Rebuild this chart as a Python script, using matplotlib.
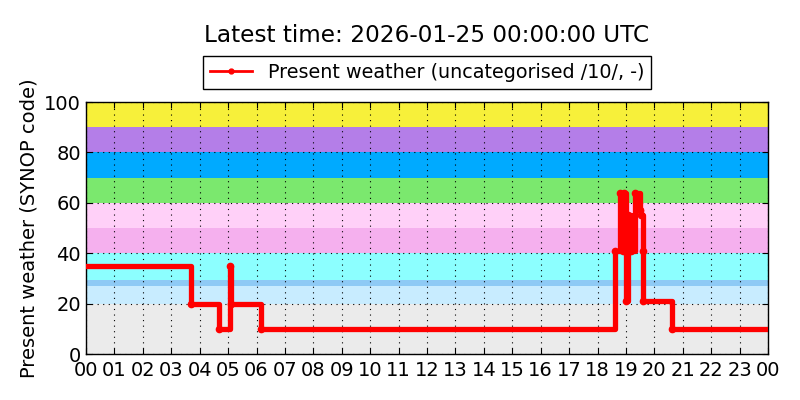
import pandas as pd
import matplotlib
matplotlib.use("Agg")
import matplotlib.pyplot as plt
import matplotlib.dates as mdates
from matplotlib.lines import Line2D

plt.rcParams.update({
    "font.family": "DejaVu Sans",
    "font.size": 14,
    "xtick.direction": "in", "ytick.direction": "in",
    "xtick.top": True, "ytick.right": True,
})

# present weather code, stepped at each change (day 2026-01-24, UTC)
times = ["00:00", "03:42", "04:41", "05:03", "05:07", "06:10",
         "18:38", "18:48", "18:54", "18:57", "19:01", "19:04", "19:11",
         "19:20", "19:29", "19:32", "19:36", "19:37", "20:37"]
codes = [35, 20, 10, 35, 20, 10,
         41, 64, 41, 64, 21, 55, 41,
         64, 57, 55, 41, 21, 10]
end_time = "2026-01-25 00:00"

# background SYNOP category bands
band_lo = [0, 20, 27, 29.5, 40, 50, 60, 70, 80, 90]
band_hi = [20, 27, 29.5, 40, 50, 60, 70, 80, 90, 100]
band_col = ["#ebebeb", "#c8ecff", "#8ecaf5", "#8cffff", "#f5b0ee",
            "#ffd0f8", "#7be86e", "#00aaff", "#b47ee8", "#f7f03a"]

t = list(pd.to_datetime(["2026-01-24 " + s for s in times])) + [pd.Timestamp(end_time)]
v = codes + [codes[-1]]

fig = plt.figure(figsize=(8, 4), dpi=100)
ax = fig.add_axes([0.1075, 0.115, 0.8525, 0.63])

for lo, hi, c in zip(band_lo, band_hi, band_col):
    ax.axhspan(lo, hi, color=c, lw=0, zorder=0)

ax.plot(t, v, drawstyle="steps-post", color="red", lw=3.8,
        marker="o", ms=4.5, mec="red", markevery=list(range(1, len(codes))),
        zorder=3)

ax.set_axisbelow(True)
ax.grid(True, color="black", linestyle=(0, (1, 4)), lw=0.8)
ax.set_ylim(0, 100)
ax.set_yticks(range(0, 101, 20))
ax.set_xlim(pd.Timestamp("2026-01-24 00:00"), pd.Timestamp(end_time))
ax.xaxis.set_major_locator(mdates.HourLocator())
ax.xaxis.set_major_formatter(mdates.DateFormatter("%H"))
ax.tick_params(length=4, width=0.8)
ax.tick_params(axis="x", pad=5)
for s in ax.spines.values():
    s.set_linewidth(1.0)
ax.set_ylabel("Present weather (SYNOP code)")

handle = Line2D([], [], color="red", lw=2, marker=".", ms=7)
leg = ax.legend([handle], ["Present weather (uncategorised /10/, -)"],
                loc="lower center", bbox_to_anchor=(0.5, 1.052),
                borderaxespad=0, numpoints=1, fancybox=False, framealpha=1,
                borderpad=0.35, handlelength=2.2, fontsize=13.8)
leg.get_frame().set_edgecolor("black")
leg.get_frame().set_linewidth(1.0)

fig.text(0.5335, 0.912, "Latest time: 2026-01-25 00:00:00 UTC",
         fontsize=16.7, ha="center", va="center")

fig.savefig("out.png", dpi=100)
